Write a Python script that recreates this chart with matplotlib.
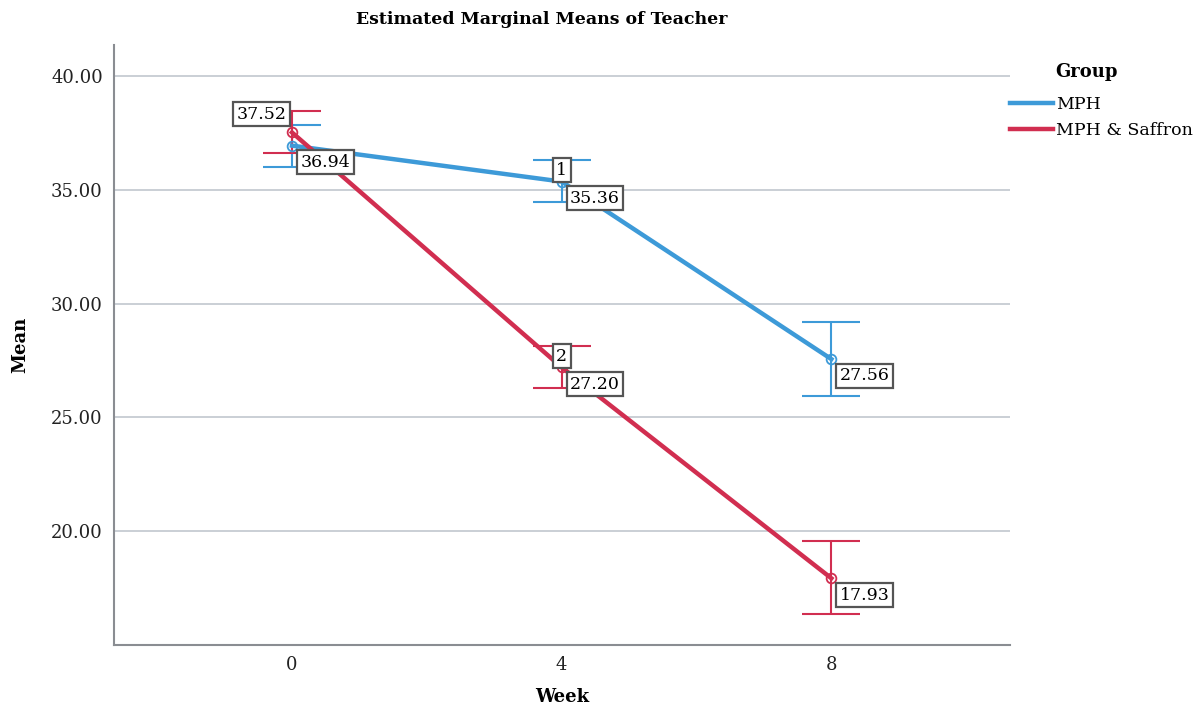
import matplotlib.pyplot as plt

# data
weeks = [0, 4, 8]
week_labels = ['0', '4', '8']
mph_mean = [36.94, 35.36, 27.56]
mph_lo = [36.00, 34.46, 25.93]
mph_hi = [37.85, 36.31, 29.19]
saf_mean = [37.52, 27.20, 17.93]
saf_lo = [36.62, 26.29, 16.35]
saf_hi = [38.46, 28.13, 19.56]
groups = ['MPH', 'MPH & Saffron']

blue = '#3d9ad8'
red = '#d12e50'

plt.rcParams['font.family'] = ['DejaVu Serif']

fig = plt.figure(figsize=(11.96, 7.09), dpi=100)
ax = fig.add_axes([0.0953, 0.0903, 0.7492, 0.8462])

box = dict(boxstyle='square,pad=0.2', fc='white', ec='#555555', lw=1.6)
lab_fs = 12.5

def draw_group(means, lo, hi, color, label):
    err = [[m - l for m, l in zip(means, lo)], [h - m for m, h in zip(means, hi)]]
    ax.errorbar(weeks, means, yerr=err, fmt='none', ecolor=color, elinewidth=1.5,
                capsize=21, capthick=1.5, zorder=3)
    ax.plot(weeks, means, color=color, lw=3.2, label=label, zorder=4)
    ax.plot(weeks, means, 'o', mfc='none', mec=color, ms=7, mew=1.3, zorder=5)

draw_group(mph_mean, mph_lo, mph_hi, blue, groups[0])
draw_group(saf_mean, saf_lo, saf_hi, red, groups[1])

# value labels
for x, m in zip(weeks, mph_mean):
    ax.annotate(f'{m:.2f}', (x, m), xytext=(6, -6), textcoords='offset points',
                ha='left', va='top', fontsize=lab_fs, bbox=box, zorder=6)
for i, (x, m) in enumerate(zip(weeks, saf_mean)):
    if i == 0:
        ax.annotate(f'{m:.2f}', (x, m), xytext=(-4, 7), textcoords='offset points',
                    ha='right', va='bottom', fontsize=lab_fs, bbox=box, zorder=6)
    else:
        ax.annotate(f'{m:.2f}', (x, m), xytext=(6, -6), textcoords='offset points',
                    ha='left', va='top', fontsize=lab_fs, bbox=box, zorder=6)
# the small index boxes above week 4
ax.annotate('1', (weeks[1], mph_mean[1]), xytext=(0, 2), textcoords='offset points',
            ha='center', va='bottom', fontsize=lab_fs, bbox=box, zorder=6)
ax.annotate('2', (weeks[1], saf_mean[1]), xytext=(0, 2), textcoords='offset points',
            ha='center', va='bottom', fontsize=lab_fs, bbox=box, zorder=6)

ax.set_xlim(-2.64, 10.65)
ax.set_ylim(15.0, 41.36)
ax.set_xticks(weeks)
ax.set_xticklabels(week_labels)
ax.set_yticks([20, 25, 30, 35, 40])
ax.set_yticklabels([f'{v:.2f}' for v in [20, 25, 30, 35, 40]])
ax.tick_params(length=0, labelsize=13, colors='#222222', pad=8)
ax.yaxis.grid(True, color='#c6cbd2', lw=1.3)
ax.set_axisbelow(True)
for s in ['top', 'right']:
    ax.spines[s].set_visible(False)
for s in ['left', 'bottom']:
    ax.spines[s].set_color('#8a8d92')
    ax.spines[s].set_linewidth(1.5)

ax.set_xlabel('Week', fontsize=13, fontweight='bold', labelpad=10)
ax.set_ylabel('Mean', fontsize=13, fontweight='bold', labelpad=16)
fig.suptitle('Estimated Marginal Means of Teacher', x=0.453, y=0.985,
             fontsize=12.5, fontweight='bold')

ax.legend(loc='upper left', bbox_to_anchor=(1.0, 0.915), frameon=False,
          fontsize=12.5, handlelength=2.5, handletextpad=0.15, labelspacing=0.5,
          borderaxespad=0, borderpad=0)
fig.text(0.882, 0.898, 'Group', fontsize=13, fontweight='bold', ha='left', va='center')

fig.savefig('out.png', dpi=100)
